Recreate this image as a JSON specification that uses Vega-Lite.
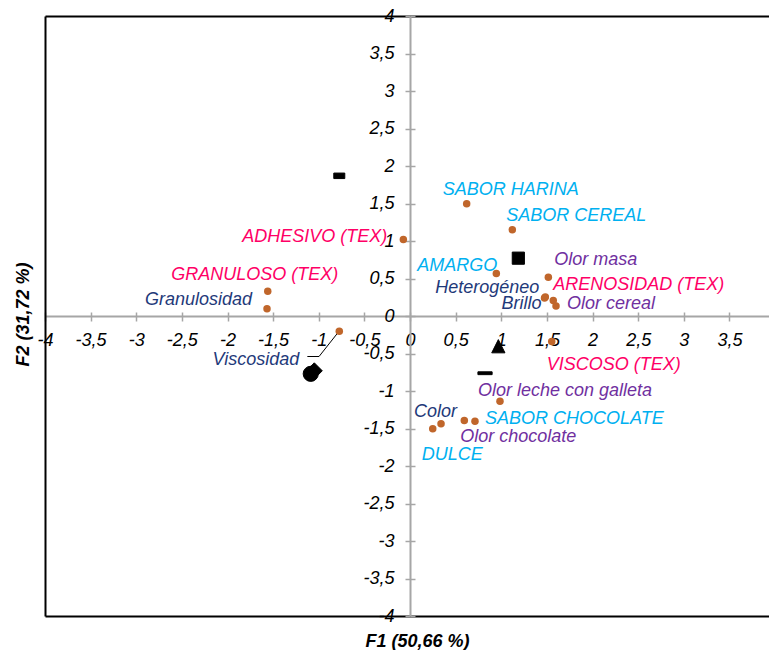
{
  "$schema": "https://vega.github.io/schema/vega-lite/v6.json",
  "width": 724,
  "height": 600,
  "autosize": {"type": "none"},
  "padding": {"left": 45, "top": 16, "right": 0, "bottom": 34},
  "background": "white",
  "config": {
    "view": {"stroke": null},
    "axis": {
      "grid": false,
      "labelFont": "Liberation Sans",
      "titleFont": "Liberation Sans",
      "labelFontStyle": "italic",
      "labelFontSize": 18,
      "labelColor": "black",
      "labelOverlap": false,
      "labelFlush": false,
      "labelBound": false
    },
    "text": {"font": "Liberation Sans", "fontSize": 18, "fontStyle": "italic"}
  },
  "datasets": {
    "atributos": [
      {"atributo": "ADHESIVO (TEX)", "tipo": "Textura", "F1": -0.073, "F2": 1.02},
      {"atributo": "GRANULOSO (TEX)", "tipo": "Textura", "F1": -1.559, "F2": 0.331},
      {"atributo": "Granulosidad", "tipo": "Apariencia", "F1": -1.567, "F2": 0.096},
      {"atributo": "Viscosidad", "tipo": "Apariencia", "F1": -0.775, "F2": -0.203},
      {"atributo": "SABOR HARINA", "tipo": "Sabor", "F1": 0.621, "F2": 1.496},
      {"atributo": "SABOR CEREAL", "tipo": "Sabor", "F1": 1.121, "F2": 1.149},
      {"atributo": "AMARGO", "tipo": "Sabor", "F1": 0.946, "F2": 0.567},
      {"atributo": "Olor masa", "tipo": "Olor", "F1": 1.516, "F2": 0.517},
      {"atributo": "Heterogéneo", "tipo": "Apariencia", "F1": 1.483, "F2": 0.253},
      {"atributo": "Brillo", "tipo": "Apariencia", "F1": 1.474, "F2": 0.24},
      {"atributo": "ARENOSIDAD (TEX)", "tipo": "Textura", "F1": 1.57, "F2": 0.207},
      {"atributo": "Olor cereal", "tipo": "Olor", "F1": 1.6, "F2": 0.133},
      {"atributo": "VISCOSO (TEX)", "tipo": "Textura", "F1": 1.553, "F2": -0.34},
      {"atributo": "Olor leche con galleta", "tipo": "Olor", "F1": 0.986, "F2": -1.136},
      {"atributo": "SABOR CHOCOLATE", "tipo": "Sabor", "F1": 0.712, "F2": -1.403},
      {"atributo": "Olor chocolate", "tipo": "Olor", "F1": 0.595, "F2": -1.393},
      {"atributo": "Color", "tipo": "Apariencia", "F1": 0.34, "F2": -1.437},
      {"atributo": "DULCE", "tipo": "Sabor", "F1": 0.249, "F2": -1.504}
    ],
    "productos": [
      {"producto": "P1", "F1": -0.775, "F2": 1.869},
      {"producto": "P2", "F1": 1.187, "F2": 0.771},
      {"producto": "P3", "F1": 0.968, "F2": -0.403},
      {"producto": "P4", "F1": 0.822, "F2": -0.763},
      {"producto": "P6", "F1": -1.049, "F2": -0.731},
      {"producto": "P5", "F1": -1.088, "F2": -0.771}
    ],
    "guia": [
      {"orden": 1, "F1": -0.79, "F2": -0.222},
      {"orden": 2, "F1": -0.997, "F2": -0.54},
      {"orden": 3, "F1": -1.125, "F2": -0.54}
    ]
  },
  "resolve": {"axis": {"x": "independent", "y": "independent"}},
  "layer": [
    {
      "data": {"name": "guia"},
      "mark": {"type": "line", "color": "black", "strokeWidth": 1},
      "encoding": {
        "x": {
          "field": "F1", "type": "quantitative",
          "scale": {"domain": [-4, 3.934], "nice": false, "zero": false},
          "axis": {
            "orient": "bottom", "offset": 0,
            "domainColor": "black", "domainWidth": 2,
            "ticks": false, "labels": false,
            "title": "F1 (50,66 %)",
            "titleFontSize": 18, "titleFontWeight": "bold", "titleFontStyle": "italic",
            "titleColor": "black", "titleX": 372, "titleY": 30,
            "titleBaseline": "alphabetic", "titleAlign": "center"
          }
        },
        "y": {
          "field": "F2", "type": "quantitative",
          "scale": {"domain": [-4, 4], "nice": false, "zero": false},
          "axis": {
            "orient": "left", "offset": 0,
            "domainColor": "black", "domainWidth": 2,
            "ticks": false, "labels": false,
            "title": "F2 (31,72 %)",
            "titleFontSize": 18, "titleFontWeight": "bold", "titleFontStyle": "italic",
            "titleColor": "black", "titleX": -17, "titleY": 298, "titleAngle": 270,
            "titleBaseline": "alphabetic", "titleAlign": "center"
          }
        },
        "order": {"field": "orden"}
      }
    },
    {
      "data": {"name": "atributos"},
      "mark": {"type": "circle", "size": 56, "color": "#C0662B", "opacity": 1},
      "encoding": {
        "x": {
          "field": "F1", "type": "quantitative",
          "scale": {"domain": [-4, 3.934], "nice": false, "zero": false},
          "axis": {
            "orient": "bottom", "offset": -300,
            "values": [-4, -3.5, -3, -2.5, -2, -1.5, -1, -0.5, 0, 0.5, 1, 1.5, 2, 2.5, 3, 3.5],
            "domainColor": "#A6A6A6", "domainWidth": 2,
            "tickColor": "#A6A6A6", "tickWidth": 1.5, "tickSize": 5,
            "labelPadding": 10,
            "labelExpr": "replace(toString(datum.value), '.', ',')",
            "title": null
          }
        },
        "y": {
          "field": "F2", "type": "quantitative",
          "scale": {"domain": [-4, 4], "nice": false, "zero": false},
          "axis": {
            "orient": "left", "offset": -365,
            "values": [-4, -3.5, -3, -2.5, -2, -1.5, -1, -0.5, 0, 0.5, 1, 1.5, 2, 2.5, 3, 3.5, 4],
            "domainColor": "#A6A6A6", "domainWidth": 2,
            "tickColor": "#A6A6A6", "tickWidth": 1.5, "tickSize": 5,
            "labelPadding": 11,
            "labelExpr": "replace(toString(datum.value), '.', ',')",
            "title": null
          }
        }
      }
    },
    {
      "data": {"name": "productos"},
      "mark": {"type": "point", "filled": true, "color": "black", "opacity": 1, "stroke": "black", "strokeWidth": 1, "strokeJoin": "round"},
      "encoding": {
        "x": {
          "field": "F1", "type": "quantitative",
          "scale": {"domain": [-4, 3.934], "nice": false, "zero": false},
          "axis": {
            "orient": "top", "offset": -300,
            "values": [-4, -3.5, -3, -2.5, -2, -1.5, -1, -0.5, 0, 0.5, 1, 1.5, 2, 2.5, 3, 3.5],
            "domain": false, "labels": false,
            "tickColor": "#A6A6A6", "tickWidth": 1.5, "tickSize": 4,
            "title": null
          }
        },
        "y": {
          "field": "F2", "type": "quantitative",
          "scale": {"domain": [-4, 4], "nice": false, "zero": false},
          "axis": {
            "orient": "right", "offset": -359,
            "values": [-4, -3.5, -3, -2.5, -2, -1.5, -1, -0.5, 0, 0.5, 1, 1.5, 2, 2.5, 3, 3.5, 4],
            "domain": false, "labels": false,
            "tickColor": "#A6A6A6", "tickWidth": 1.5, "tickSize": 5,
            "title": null
          }
        },
        "shape": {
          "field": "producto", "type": "nominal", "legend": null,
          "scale": {
            "domain": ["P1", "P2", "P3", "P4", "P5", "P6"],
            "range": [
              "M-1,-0.5L1,-0.5L1,0.5L-1,0.5Z",
              "M-1,-1L1,-1L1,1L-1,1Z",
              "M0,-1L1,1L-1,1Z",
              "M-1,-0.2L1,-0.2L1,0.2L-1,0.2Z",
              "circle",
              "diamond"
            ]
          }
        },
        "size": {
          "field": "producto", "type": "nominal", "legend": null,
          "scale": {
            "domain": ["P1", "P2", "P3", "P4", "P5", "P6"],
            "range": [121, 256, 256, 256, 225, 225]
          }
        }
      }
    },
    {
      "data": {"name": "atributos"},
      "encoding": {
        "x": {
          "field": "F1", "type": "quantitative",
          "scale": {"domain": [-4, 3.934], "nice": false, "zero": false},
          "axis": {
            "orient": "top", "offset": 0,
            "domainColor": "black", "domainWidth": 2,
            "ticks": false, "labels": false, "title": null
          }
        },
        "y": {
          "field": "F2", "type": "quantitative",
          "scale": {"domain": [-4, 4], "nice": false, "zero": false},
          "axis": null
        },
        "text": {"field": "atributo"},
        "color": {
          "field": "tipo", "type": "nominal", "legend": null,
          "scale": {
            "domain": ["Textura", "Sabor", "Apariencia", "Olor"],
            "range": ["#FF0066", "#00B0F0", "#1F3A7A", "#7030A0"]
          }
        }
      },
      "layer": [
        {"transform": [{"filter": {"field": "atributo", "equal": "ADHESIVO (TEX)"}}], "mark": {"type": "text", "align": "right", "baseline": "alphabetic", "dx": -16, "dy": 2}},
        {"transform": [{"filter": {"field": "atributo", "equal": "GRANULOSO (TEX)"}}], "mark": {"type": "text", "align": "center", "baseline": "alphabetic", "dx": -13, "dy": -11}},
        {"transform": [{"filter": {"field": "atributo", "equal": "Granulosidad"}}], "mark": {"type": "text", "align": "right", "baseline": "alphabetic", "dx": -15, "dy": -4}},
        {"transform": [{"filter": {"field": "atributo", "equal": "Viscosidad"}}], "mark": {"type": "text", "align": "right", "baseline": "alphabetic", "dx": -40, "dy": 34}},
        {"transform": [{"filter": {"field": "atributo", "equal": "SABOR HARINA"}}], "mark": {"type": "text", "align": "left", "baseline": "alphabetic", "dx": -24, "dy": -9}},
        {"transform": [{"filter": {"field": "atributo", "equal": "SABOR CEREAL"}}], "mark": {"type": "text", "align": "left", "baseline": "alphabetic", "dx": -6, "dy": -9}},
        {"transform": [{"filter": {"field": "atributo", "equal": "AMARGO"}}], "mark": {"type": "text", "align": "right", "baseline": "alphabetic", "dx": 1, "dy": -2}},
        {"transform": [{"filter": {"field": "atributo", "equal": "Olor masa"}}], "mark": {"type": "text", "align": "left", "baseline": "alphabetic", "dx": 6, "dy": -12}},
        {"transform": [{"filter": {"field": "atributo", "equal": "Heterogéneo"}}], "mark": {"type": "text", "align": "right", "baseline": "alphabetic", "dx": -6, "dy": -4}},
        {"transform": [{"filter": {"field": "atributo", "equal": "Brillo"}}], "mark": {"type": "text", "align": "right", "baseline": "alphabetic", "dx": -3, "dy": 11}},
        {"transform": [{"filter": {"field": "atributo", "equal": "ARENOSIDAD (TEX)"}}], "mark": {"type": "text", "align": "left", "baseline": "alphabetic", "dx": 0, "dy": -10}},
        {"transform": [{"filter": {"field": "atributo", "equal": "Olor cereal"}}], "mark": {"type": "text", "align": "left", "baseline": "alphabetic", "dx": 11, "dy": 3}},
        {"transform": [{"filter": {"field": "atributo", "equal": "VISCOSO (TEX)"}}], "mark": {"type": "text", "align": "left", "baseline": "alphabetic", "dx": -5, "dy": 28}},
        {"transform": [{"filter": {"field": "atributo", "equal": "Olor leche con galleta"}}], "mark": {"type": "text", "align": "left", "baseline": "alphabetic", "dx": -22, "dy": -5}},
        {"transform": [{"filter": {"field": "atributo", "equal": "SABOR CHOCOLATE"}}], "mark": {"type": "text", "align": "left", "baseline": "alphabetic", "dx": 10, "dy": 3}},
        {"transform": [{"filter": {"field": "atributo", "equal": "Olor chocolate"}}], "mark": {"type": "text", "align": "left", "baseline": "alphabetic", "dx": -4, "dy": 22}},
        {"transform": [{"filter": {"field": "atributo", "equal": "Color"}}], "mark": {"type": "text", "align": "left", "baseline": "alphabetic", "dx": -27, "dy": -7}},
        {"transform": [{"filter": {"field": "atributo", "equal": "DULCE"}}], "mark": {"type": "text", "align": "left", "baseline": "alphabetic", "dx": -11, "dy": 31}}
      ]
    }
  ]
}
